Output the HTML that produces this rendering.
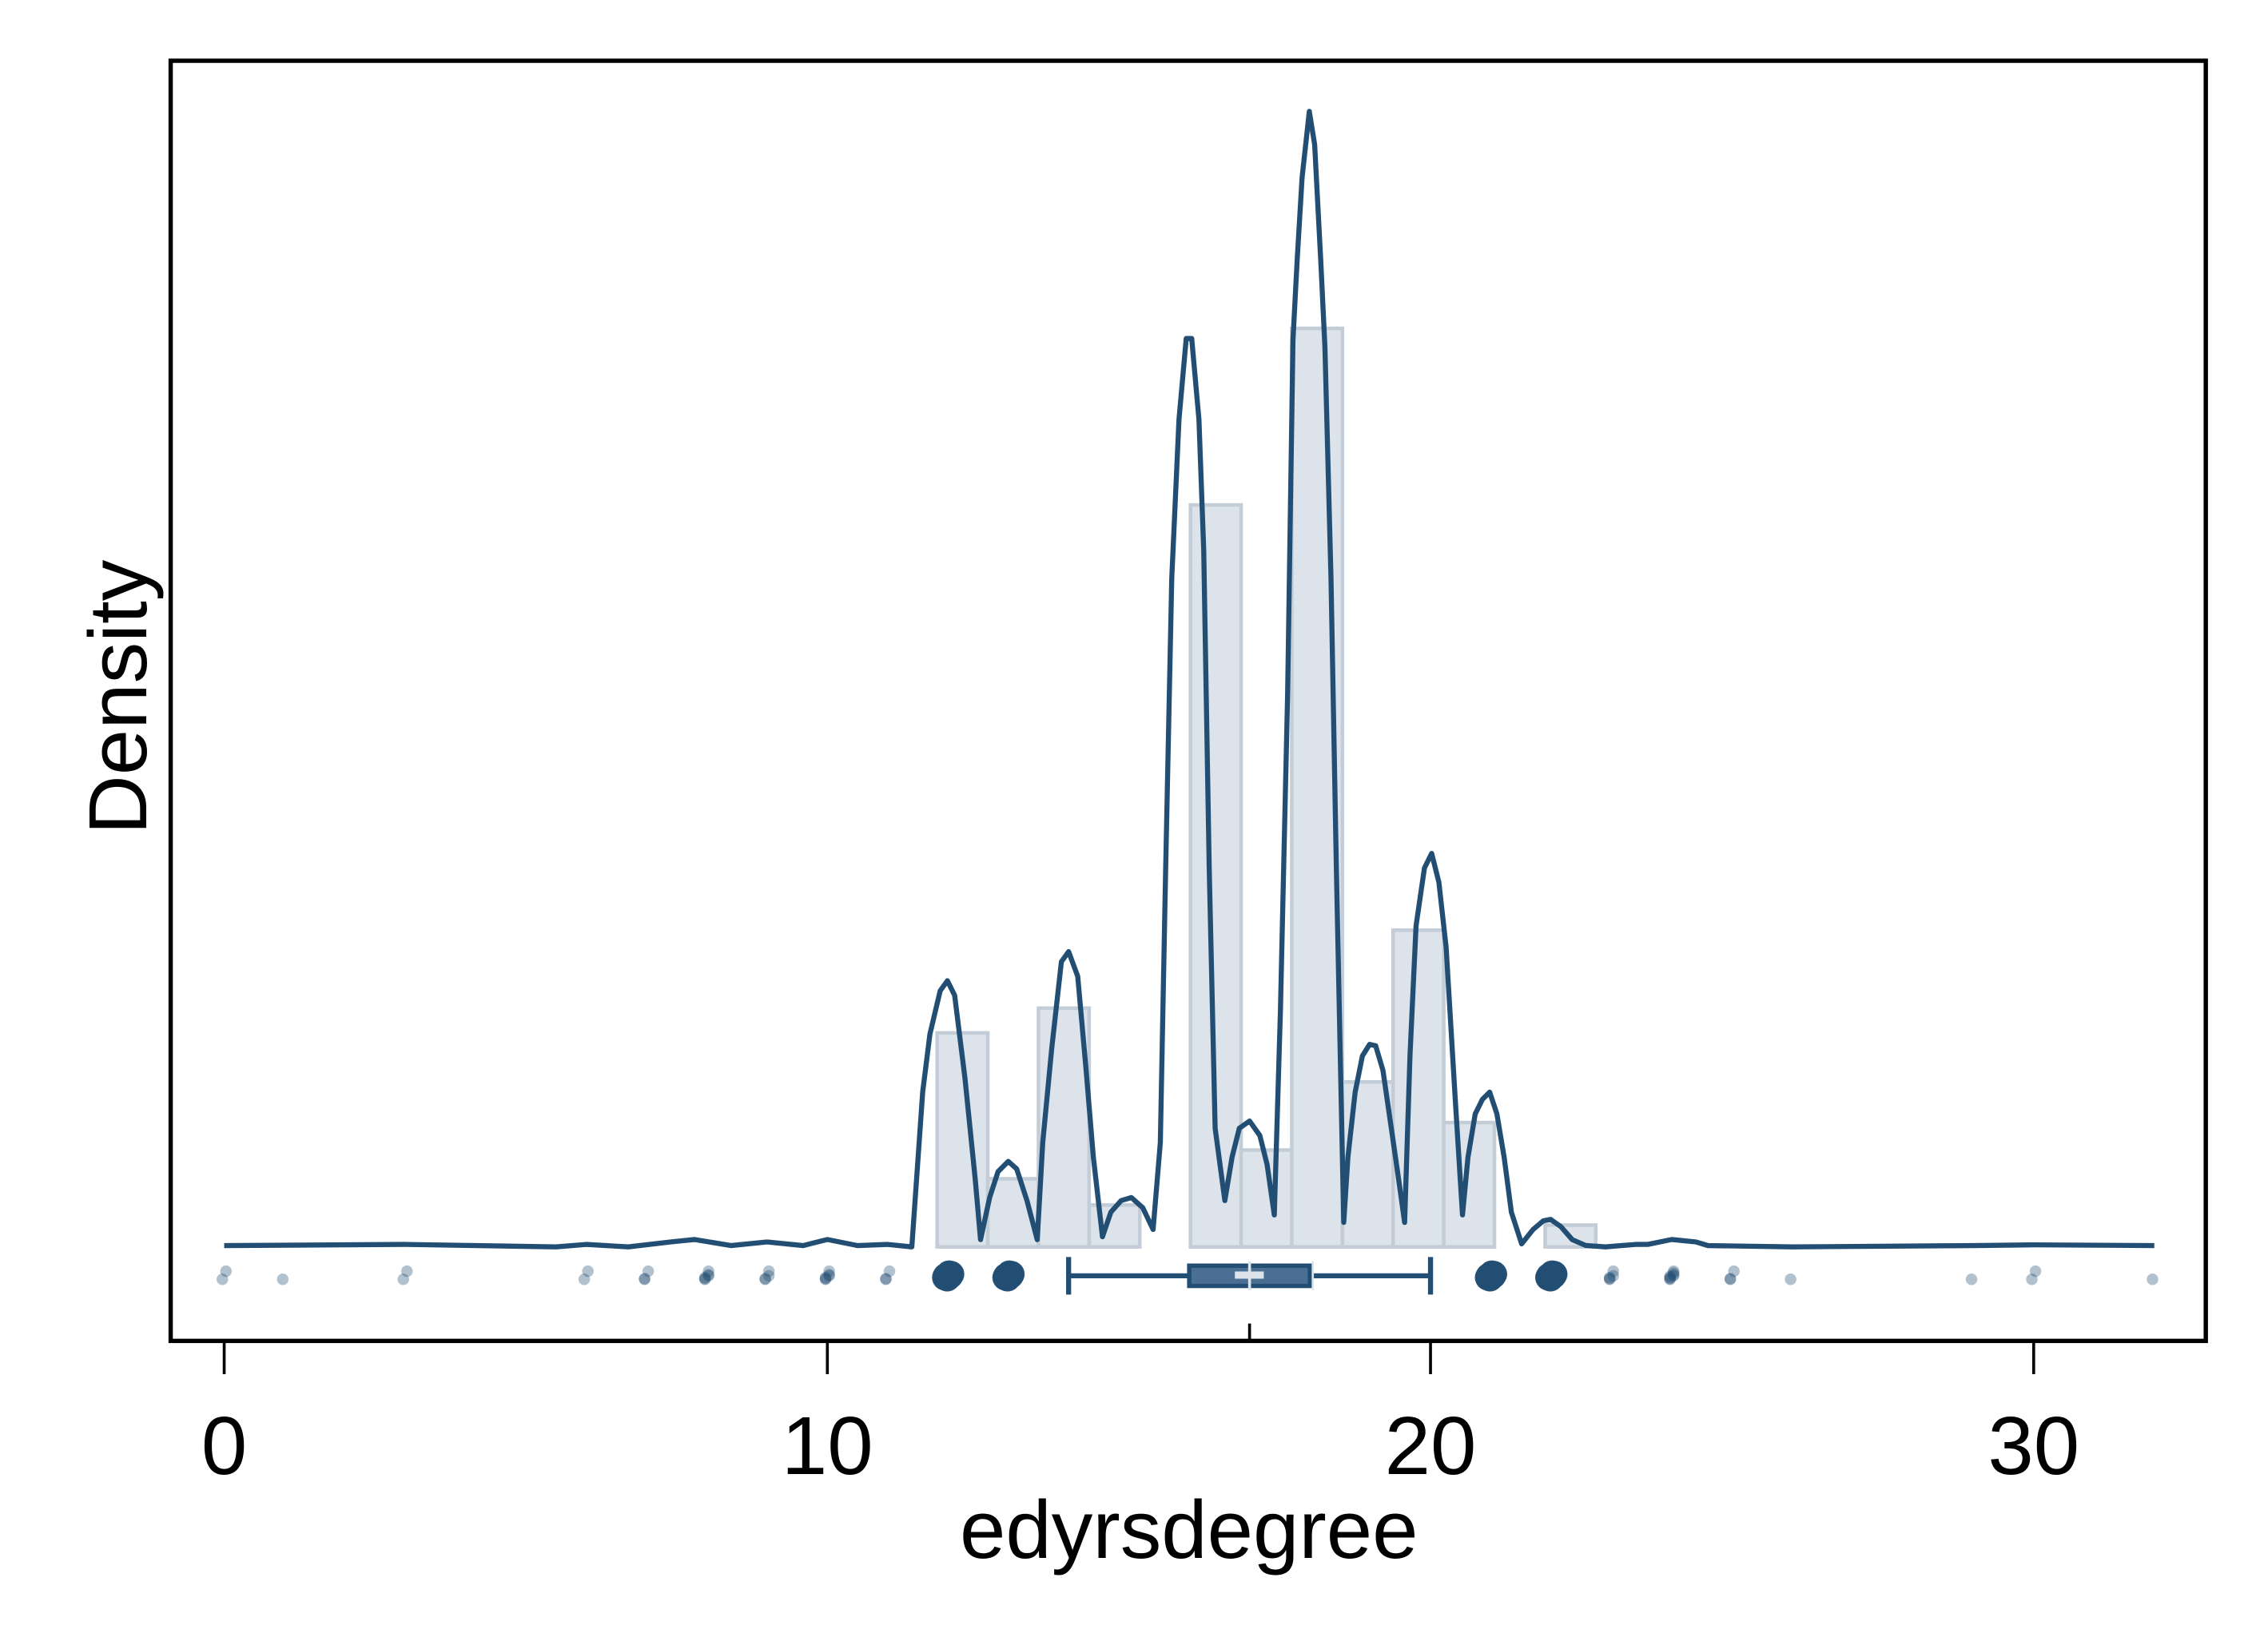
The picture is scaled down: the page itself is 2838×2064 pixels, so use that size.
<!DOCTYPE html>
<html><head><meta charset="utf-8"><style>html,body{margin:0;padding:0;background:#fff}svg{display:block}</style></head>
<body>
<svg id="chart" xmlns="http://www.w3.org/2000/svg" width="2838" height="2064" viewBox="0 0 1568 1140" preserveAspectRatio="none" font-family="Liberation Sans, sans-serif">
<rect x="0" y="0" width="1568" height="1140" fill="#fff"/>
<g id="bars"></g>
<g id="kde"></g>
<g id="dots"></g>
<g id="box"></g>
<rect x="118" y="42" width="1407" height="885" fill="none" stroke="#000" stroke-width="3"/>
<g id="axis"></g>
<text x="822" y="1077" font-size="57" text-anchor="middle">edyrsdegree</text>
<text transform="translate(101,482) rotate(-90)" font-size="57" text-anchor="middle">Density</text>
</svg>
<script>
const binStart = 11.82;
const binWidth = 0.84;
const binHeights = [0.0864,0.0275,0.0964,0.0169,0,0.2996,0.0391,0.3709,0.0666,0.1279,0.0502,0,0.0088];
const kdeX = [0,3,5.5,6,6.7,7.4,7.8,8.4,9,9.6,10,10.5,11,11.4,11.58,11.70,11.87,11.99,12.11,12.28,12.45,12.54,12.69,12.83,13.00,13.14,13.31,13.48,13.57,13.72,13.88,14.00,14.15,14.29,14.41,14.56,14.70,14.87,15.04,15.23,15.40,15.52,15.61,15.71,15.83,15.95,16.04,16.16,16.24,16.33,16.43,16.59,16.71,16.83,17.00,17.17,17.29,17.41,17.51,17.63,17.72,17.79,17.87,17.99,18.08,18.18,18.25,18.35,18.44,18.56,18.63,18.75,18.87,18.99,19.09,19.21,19.35,19.47,19.57,19.66,19.76,19.90,20.02,20.14,20.26,20.41,20.53,20.62,20.74,20.86,20.98,21.10,21.22,21.34,21.51,21.70,21.87,21.99,22.16,22.35,22.57,22.9,23.4,23.6,24.0,24.4,24.6,26,29,30,32];
const kdeY = [0.0005,0.001,0,0.001,0,0.002,0.003,0.0005,0.002,0.0005,0.003,0.0005,0.001,0,0.0625,0.0859,0.1034,0.1075,0.1016,0.0683,0.0275,0.0029,0.0199,0.0304,0.0345,0.0315,0.0187,0.0029,0.0421,0.0800,0.1151,0.1192,0.1092,0.0713,0.0362,0.0041,0.0140,0.0187,0.0199,0.0158,0.0070,0.0421,0.1530,0.2699,0.3341,0.3668,0.3668,0.3341,0.2815,0.1530,0.0479,0.0187,0.0362,0.0479,0.0508,0.0450,0.0333,0.0129,0.0946,0.2231,0.3662,0.3984,0.4317,0.4585,0.4451,0.3984,0.3633,0.2699,0.1530,0.0099,0.0362,0.0625,0.0771,0.0818,0.0812,0.0713,0.0479,0.0275,0.0099,0.0771,0.1297,0.1530,0.1589,0.1472,0.1209,0.0596,0.0129,0.0362,0.0537,0.0596,0.0625,0.0537,0.0362,0.0140,0.0012,0.0070,0.0105,0.0111,0.0082,0.0029,0.0006,0,0.001,0.001,0.003,0.002,0.0005,0,0.0005,0.0008,0.0005];
const dotVals = [0,1,3,6,7,8,9,10,11,12,13,21,22,23,24,25,26,29,30,32];
const dotCounts = [2,1,2,2,3,6,4,6,3,30,30,30,30,5,8,3,1,1,2,1];
const boxStats = [14,16,17,18,20];
const meanVal = 16.9;
const xTicks = [0,10,20,30];

const NS="http://www.w3.org/2000/svg";
const X = v => 155 + 41.7*v;
const Y = d => 862 - 1712*d;
function mk(tag, parent, attrs){const e=document.createElementNS(NS,tag);for(const k in attrs)e.setAttribute(k,attrs[k]);parent.appendChild(e);return e;}

const gb=document.getElementById('bars');
binHeights.forEach((h,i)=>{ if(h<=0) return;
  const x0=X(binStart+i*binWidth), x1=X(binStart+(i+1)*binWidth);
  const r=mk('rect',gb,{x:x0,y:Y(h),width:x1-x0,height:Y(0)-Y(h),fill:'#dce3ea',stroke:'#c3cdd8','stroke-width':2.5});
  
  
});

const gk=document.getElementById('kde');
const pts=kdeX.map((x,i)=>X(x).toFixed(1)+','+Y(kdeY[i]).toFixed(1)).join(' ');
const pl=mk('polyline',gk,{points:pts,fill:'none',stroke:'#234e74','stroke-width':3.5,'stroke-linejoin':'round'});



const gd=document.getElementById('dots');
const offs=[0,0.6,-0.5,0.3,-0.8,0.9,-0.2,0.5,-0.6,0.1];
dotVals.forEach((v,i)=>{
  const n=dotCounts[i];
  for(let j=0;j<n;j++){
    const big=n>=20;
    const dx=big? offs[j%10]*0.06 : (j%2)*0.06-0.03;
    const dy=big? offs[(j*7+3)%10]*2 : offs[(j*3+1)%10]*4;
    const c=mk('circle',gd,{cx:X(v+dx),cy:882+dy,r:big?9:4,fill:'#234e74','fill-opacity':big?0.7:0.35});
    
    
  }
});

const gx=document.getElementById('box');
const cy=882;
const w1=mk('line',gx,{x1:X(boxStats[0]),x2:X(boxStats[1]),y1:cy,y2:cy,stroke:'#234e74','stroke-width':3.5});
 
const w2=mk('line',gx,{x1:X(boxStats[3]),x2:X(boxStats[4]),y1:cy,y2:cy,stroke:'#234e74','stroke-width':3.5});
 
[boxStats[0],boxStats[4]].forEach(v=>{const c=mk('line',gx,{x1:X(v),x2:X(v),y1:869,y2:895,stroke:'#234e74','stroke-width':3.5});
   });
const bx=mk('rect',gx,{x:X(boxStats[1]),y:875,width:X(boxStats[3])-X(boxStats[1]),height:14,fill:'#4a6f93',stroke:'#234e74','stroke-width':3});
 
const md=mk('line',gx,{x1:X(boxStats[2]),x2:X(boxStats[2]),y1:872,y2:892,stroke:'#dce3ea','stroke-width':2});
 
const mn=mk('rect',gx,{x:X(meanVal)-6,y:879,width:20,height:5,fill:'#dce3ea'});
 
const q3=mk('line',gx,{x1:X(boxStats[3])+2,x2:X(boxStats[3])+2,y1:872,y2:892,stroke:'#dce3ea','stroke-width':1.5});
 
const mt=mk('line',gx,{x1:X(boxStats[2]),x2:X(boxStats[2]),y1:915,y2:927,stroke:'#000','stroke-width':2});
 

const ga=document.getElementById('axis');
xTicks.forEach(v=>{
  const t=mk('line',ga,{x1:X(v),x2:X(v),y1:927,y2:950,stroke:'#000','stroke-width':2});
   
  const l=mk('text',ga,{x:X(v),y:1019,'font-size':57,'text-anchor':'middle'});
  l.textContent=v;
   
});
</script>
</body></html>
